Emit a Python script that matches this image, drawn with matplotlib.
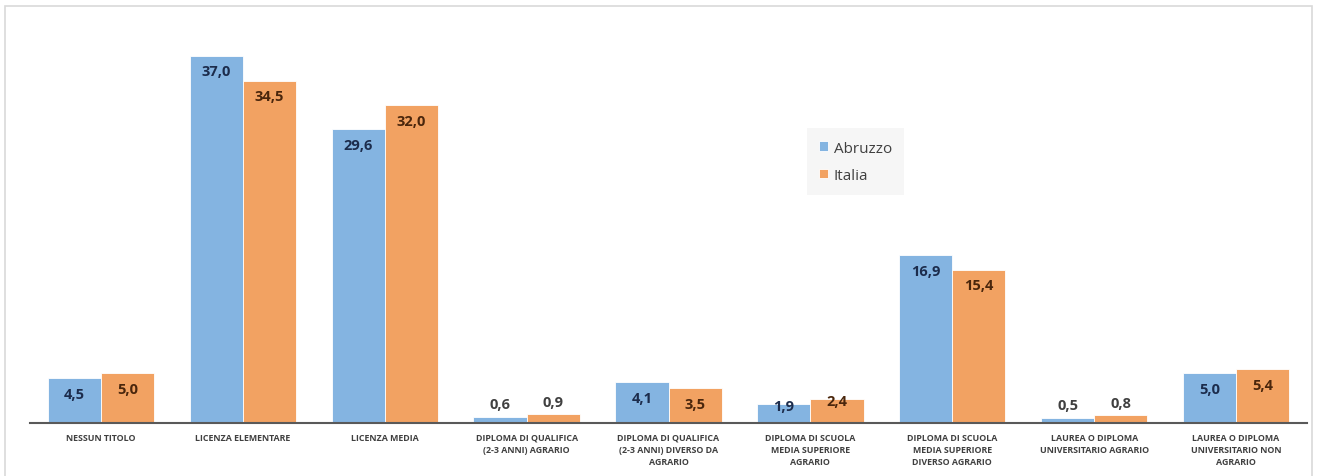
import numpy as np
import matplotlib
matplotlib.use("Agg")
import matplotlib.pyplot as plt
from matplotlib.patches import Rectangle

categories = [
    "NESSUN TITOLO",
    "LICENZA ELEMENTARE",
    "LICENZA MEDIA",
    "DIPLOMA DI QUALIFICA\n(2-3 ANNI) AGRARIO",
    "DIPLOMA DI QUALIFICA\n(2-3 ANNI) DIVERSO DA\nAGRARIO",
    "DIPLOMA DI SCUOLA\nMEDIA SUPERIORE\nAGRARIO",
    "DIPLOMA DI SCUOLA\nMEDIA SUPERIORE\nDIVERSO AGRARIO",
    "LAUREA O DIPLOMA\nUNIVERSITARIO AGRARIO",
    "LAUREA O DIPLOMA\nUNIVERSITARIO NON\nAGRARIO",
]
abruzzo = [4.5, 37.0, 29.6, 0.6, 4.1, 1.9, 16.9, 0.5, 5.0]
italia = [5.0, 34.5, 32.0, 0.9, 3.5, 2.4, 15.4, 0.8, 5.4]
series_names = ["Abruzzo", "Italia"]

blue = "#84B4E1"
orange = "#F2A262"
blue_txt = "#1C2C4C"
orange_txt = "#4A260C"

plt.rcParams["font.family"] = ["Open Sans", "DejaVu Sans"]

fig = plt.figure(figsize=(13.2, 4.77), dpi=100)
# light frame around the chart area
fig.patches.append(Rectangle((5 / 1320, -0.05), 1307 / 1320, 1 - 7 / 477 + 0.05,
                             transform=fig.transFigure, fill=False,
                             edgecolor="#d9d9d9", linewidth=1.2))

ax = fig.add_axes([30 / 1320, 53 / 477, 1277 / 1320, 397 / 477])

x = np.arange(len(categories))
w = 0.375
b1 = ax.bar(x - w / 2, abruzzo, w, color=blue, label=series_names[0],
            edgecolor="white", linewidth=0.6)
b2 = ax.bar(x + w / 2, italia, w, color=orange, label=series_names[1],
            edgecolor="white", linewidth=0.6)


def put_labels(bars, vals, col):
    for r, v in zip(bars, vals):
        cx = r.get_x() + r.get_width() / 2
        txt = f"{v:.1f}".replace(".", ",")
        if v < 1:
            ax.annotate(txt, (cx, v), xytext=(0, 4), textcoords="offset points",
                        ha="center", va="bottom", fontsize=10.5, fontweight="bold",
                        color="#404040")
        elif v < 3:
            ax.annotate(txt, (cx, v), xytext=(0, -1), textcoords="offset points",
                        ha="center", va="center", fontsize=10.5, fontweight="bold",
                        color=col)
        else:
            ax.annotate(txt, (cx, v), xytext=(0, -6), textcoords="offset points",
                        ha="center", va="top", fontsize=10.5, fontweight="bold",
                        color=col)


put_labels(b1, abruzzo, blue_txt)
put_labels(b2, italia, orange_txt)

ax.set_xlim(-0.5, len(categories) - 0.5)
ax.set_ylim(0, 40)
ax.set_xticks(x)
ax.set_xticklabels(categories, fontsize=6.4, fontweight="bold",
                   color="#404040", linespacing=1.45)
ax.tick_params(axis="x", length=0, pad=7)
ax.set_yticks([])
for s in ["top", "right", "left"]:
    ax.spines[s].set_visible(False)
ax.spines["bottom"].set_color("#595959")
ax.spines["bottom"].set_linewidth(1.5)

leg = ax.legend(loc="upper left", bbox_to_anchor=(0.606, 0.75), frameon=True,
                fontsize=11, handlelength=0.6, handleheight=0.6,
                handletextpad=0.35, labelspacing=0.8, borderpad=0.5)
leg.get_frame().set_facecolor("#f4f4f4")
leg.get_frame().set_edgecolor("none")
leg.get_frame().set_boxstyle("square")
for t in leg.get_texts():
    t.set_color("#404040")

fig.savefig("out.png", dpi=100, facecolor="white")
